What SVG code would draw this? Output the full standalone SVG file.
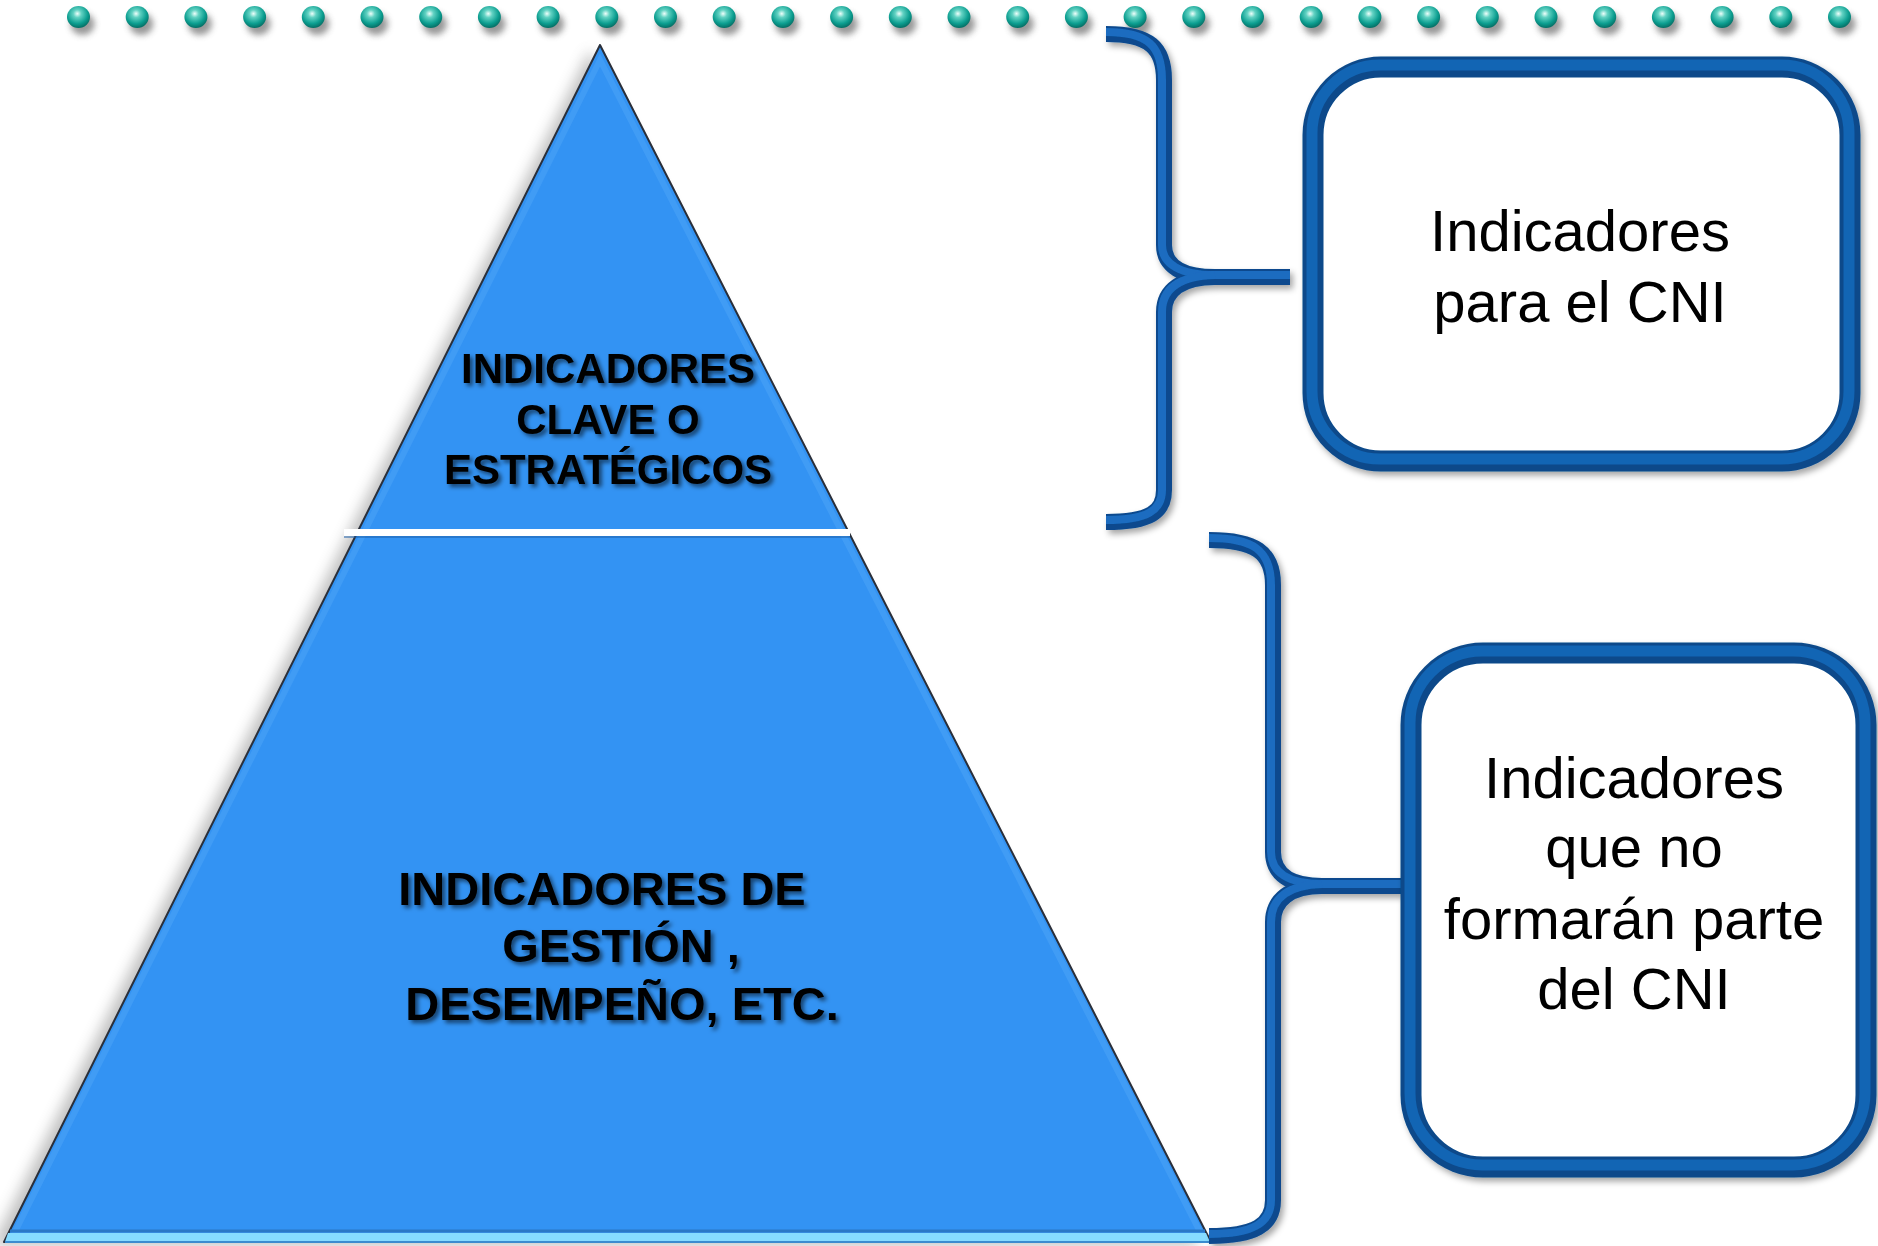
<svg xmlns="http://www.w3.org/2000/svg" xmlns:xlink="http://www.w3.org/1999/xlink" width="1878" height="1246" viewBox="0 0 1878 1246">
<defs>
<style>
.pt{font-family:"Liberation Sans",Arial,sans-serif;font-weight:bold;fill:#000;text-anchor:middle}
.bt{font-family:"Liberation Sans",Arial,sans-serif;font-size:58px;fill:#000;text-anchor:middle}
.brD{fill:none;stroke:#0a4a8e;stroke-width:16;stroke-linecap:butt}
.brL{fill:none;stroke:#1b6cc0;stroke-width:8;stroke-linecap:butt}
.bxD{fill:#fff;stroke:#0a4a8a;stroke-width:21}
.bxL{fill:none;stroke:#1265b4;stroke-width:11}
</style>
<radialGradient id="gDot" cx="0.45" cy="0.35" r="0.7">
<stop offset="0" stop-color="#effffb"/>
<stop offset="0.25" stop-color="#62d2c3"/>
<stop offset="0.65" stop-color="#0c9e90"/>
<stop offset="1" stop-color="#04625a"/>
</radialGradient>
<filter id="fBlur" x="-50%" y="-50%" width="200%" height="200%"><feGaussianBlur stdDeviation="3"/></filter>
<filter id="fBig" x="-10%" y="-10%" width="120%" height="120%"><feGaussianBlur stdDeviation="7"/></filter>
<filter id="fTxt" x="-10%" y="-20%" width="120%" height="150%"><feDropShadow dx="3" dy="3" stdDeviation="2" flood-color="#000" flood-opacity="0.55"/></filter>
<filter id="fSh" x="-10%" y="-10%" width="130%" height="130%"><feDropShadow dx="3" dy="4" stdDeviation="3" flood-color="#000" flood-opacity="0.35"/></filter>
<g id="dot">
<ellipse cx="4" cy="7" rx="12" ry="11" fill="#555" opacity="0.6" filter="url(#fBlur)"/>
<ellipse cx="0" cy="0" rx="11.5" ry="11" fill="url(#gDot)"/>
</g>
</defs>
<rect width="1878" height="1246" fill="#fff"/>

<g id="dots">
<use xlink:href="#dot" x="78.5" y="17"/><use xlink:href="#dot" x="137.2" y="17"/><use xlink:href="#dot" x="195.9" y="17"/><use xlink:href="#dot" x="254.6" y="17"/><use xlink:href="#dot" x="313.3" y="17"/><use xlink:href="#dot" x="372" y="17"/><use xlink:href="#dot" x="430.7" y="17"/><use xlink:href="#dot" x="489.4" y="17"/><use xlink:href="#dot" x="548.1" y="17"/><use xlink:href="#dot" x="606.8" y="17"/><use xlink:href="#dot" x="665.5" y="17"/><use xlink:href="#dot" x="724.2" y="17"/><use xlink:href="#dot" x="782.9" y="17"/><use xlink:href="#dot" x="841.6" y="17"/><use xlink:href="#dot" x="900.3" y="17"/><use xlink:href="#dot" x="959" y="17"/><use xlink:href="#dot" x="1017.7" y="17"/><use xlink:href="#dot" x="1076.4" y="17"/><use xlink:href="#dot" x="1135.1" y="17"/><use xlink:href="#dot" x="1193.8" y="17"/><use xlink:href="#dot" x="1252.5" y="17"/><use xlink:href="#dot" x="1311.2" y="17"/><use xlink:href="#dot" x="1369.9" y="17"/><use xlink:href="#dot" x="1428.6" y="17"/><use xlink:href="#dot" x="1487.3" y="17"/><use xlink:href="#dot" x="1546" y="17"/><use xlink:href="#dot" x="1604.7" y="17"/><use xlink:href="#dot" x="1663.4" y="17"/><use xlink:href="#dot" x="1722.1" y="17"/><use xlink:href="#dot" x="1780.8" y="17"/><use xlink:href="#dot" x="1839.5" y="17"/>
</g>

<g id="pyramid">
<polygon points="590,50 -8,1246 1200,1246" fill="#777" opacity="0.45" filter="url(#fBig)"/>
<polygon points="600,45 4,1242 1211,1242" fill="#3393f3" stroke="#2a2f3a" stroke-width="2" stroke-linejoin="round"/>
<polygon points="600,60 14,1234 1201,1234 600,60" fill="none" stroke="#4aa2f6" stroke-width="6" opacity="0.6"/>
<line x1="10" y1="1231" x2="1205" y2="1231" stroke="#2a78c6" stroke-width="3"/>
<polygon points="8,1233 1206,1233 1210,1242 5,1242" fill="#86dcff"/>
<line x1="5" y1="1242" x2="1211" y2="1242" stroke="#3a8ccf" stroke-width="2"/>
<line x1="344" y1="536" x2="850" y2="536" stroke="#1d5fa8" stroke-width="4" opacity="0.5"/>
<rect x="344" y="529" width="506" height="7" fill="#fff"/>
</g>

<g id="top-level">
<text class="pt" font-size="42" filter="url(#fTxt)"><tspan x="608" y="383">INDICADORES</tspan><tspan x="608" y="434">CLAVE O</tspan><tspan x="608" y="484">ESTRATÉGICOS</tspan></text>
</g>

<g id="bottom-level">
<text class="pt" font-size="47" filter="url(#fTxt)"><tspan x="602" y="905">INDICADORES DE</tspan><tspan x="621" y="962">GESTIÓN ,</tspan><tspan x="622" y="1020">DESEMPEÑO, ETC.</tspan></text>
</g>

<g id="connectors" filter="url(#fSh)">
<path class="brD" d="M1106 34 C1150 34 1164 48 1164 80 L1164 245 C1164 266 1182 277 1215 277 L1290 277"/>
<path class="brD" d="M1215 277 C1182 277 1164 290 1164 312 L1164 490 C1164 512 1150 522 1106 522"/>
<path class="brL" d="M1106 32 C1148 32 1162 46 1162 80 L1162 245 C1162 264 1180 275 1215 275 L1290 275"/>
<path class="brL" d="M1215 275 C1180 276 1162 288 1162 312 L1162 490 C1162 510 1148 520 1106 520"/>
<path class="brD" d="M1209 540 C1255 540 1273 552 1273 585 L1273 852 C1273 874 1290 886 1322 886 L1401 886"/>
<path class="brD" d="M1322 886 C1290 886 1273 900 1273 922 L1273 1200 C1273 1225 1255 1236 1209 1236"/>
<path class="brL" d="M1209 538 C1253 538 1271 550 1271 585 L1271 852 C1271 872 1288 884 1322 884 L1401 884"/>
<path class="brL" d="M1322 884 C1288 885 1271 898 1271 922 L1271 1200 C1271 1223 1253 1234 1209 1234"/>
</g>

<g id="box-cni">
<rect class="bxD" x="1313" y="67" width="537" height="394" rx="68" filter="url(#fSh)"/>
<rect class="bxL" x="1312" y="65" width="537" height="394" rx="68"/>
<text class="bt"><tspan x="1580" y="251">Indicadores</tspan><tspan x="1580" y="322">para el CNI</tspan></text>
</g>

<g id="box-no-cni">
<rect class="bxD" x="1411" y="653" width="455" height="514" rx="72" filter="url(#fSh)"/>
<rect class="bxL" x="1410" y="651" width="455" height="514" rx="72"/>
<text class="bt"><tspan x="1634" y="798">Indicadores</tspan><tspan x="1634" y="867">que no</tspan><tspan x="1634" y="939">formarán parte</tspan><tspan x="1634" y="1009">del CNI</tspan></text>
</g>
</svg>
